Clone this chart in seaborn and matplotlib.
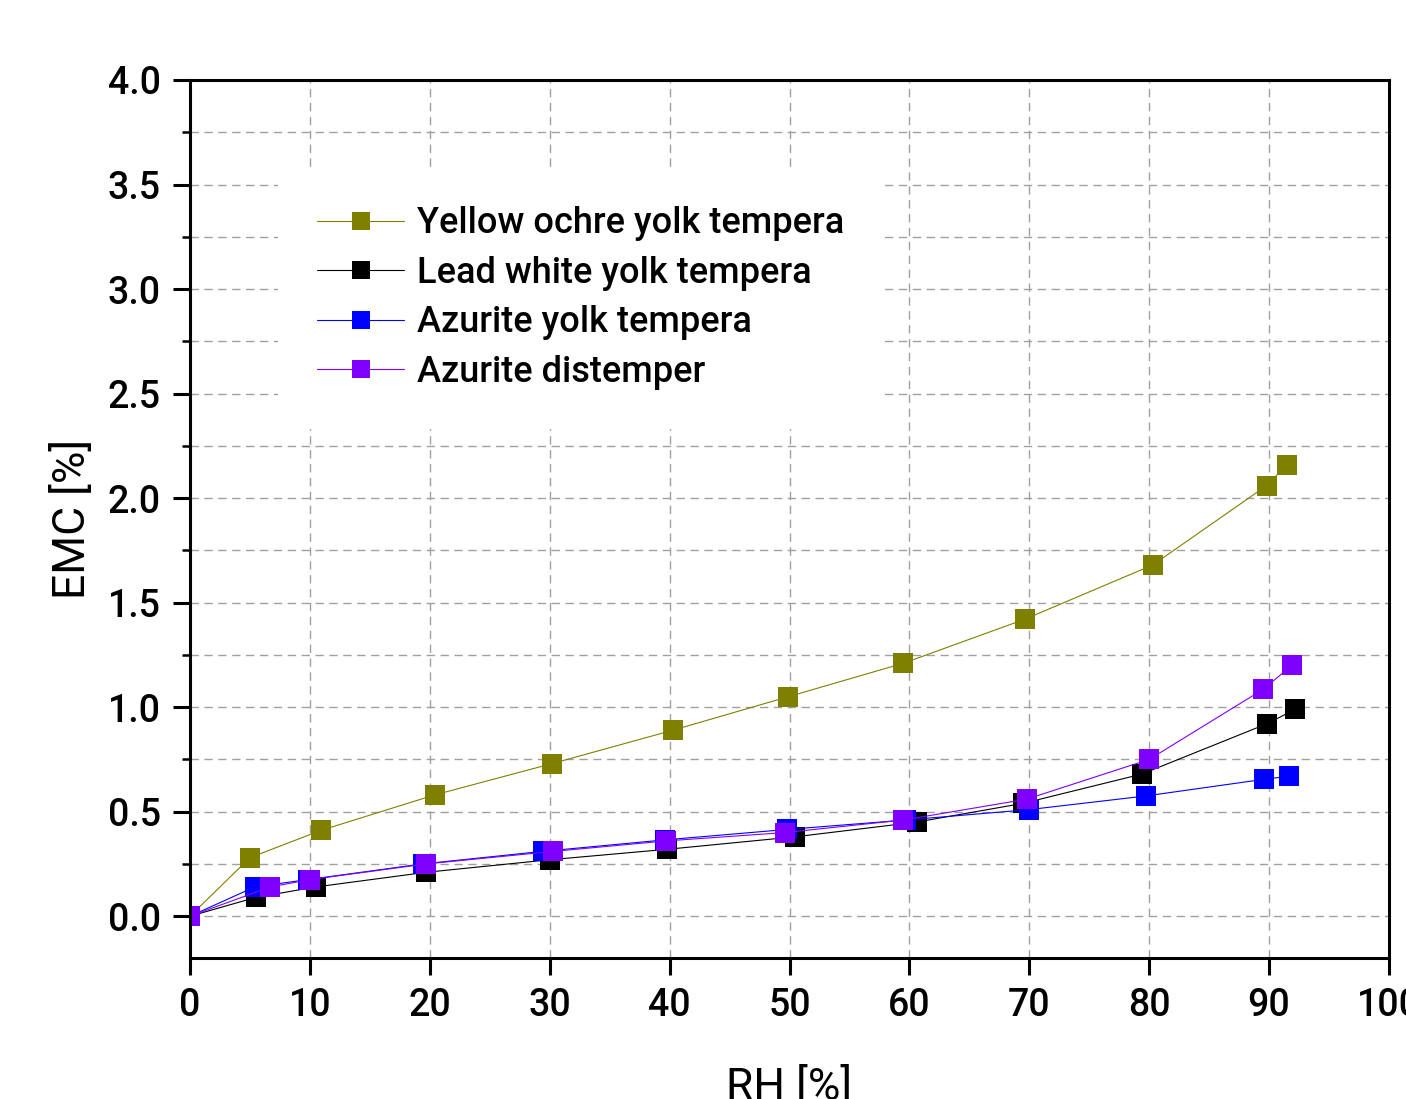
import numpy as np
import pandas as pd
import seaborn as sns
import matplotlib.pyplot as plt
from matplotlib.ticker import MultipleLocator

# data
series = ["Yellow ochre yolk tempera", "Lead white yolk tempera",
          "Azurite yolk tempera", "Azurite distemper"]
colors = ["#808000", "#000000", "#0000ff", "#8000ff"]

rh_ochre = [0, 5.0, 10.9, 20.4, 30.2, 40.3, 49.9, 59.5, 69.6, 80.3, 89.8, 91.5]
emc_ochre = [0, 0.28, 0.41, 0.58, 0.73, 0.89, 1.05, 1.21, 1.42, 1.68, 2.06, 2.16]

rh_lead = [0, 5.5, 10.5, 19.7, 30.0, 39.8, 50.5, 60.6, 69.5, 79.4, 89.8, 92.2]
emc_lead = [0, 0.09, 0.14, 0.21, 0.27, 0.32, 0.38, 0.45, 0.54, 0.68, 0.92, 0.99]

rh_azur = [0, 5.4, 9.8, 19.4, 29.4, 39.6, 49.8, 59.7, 70.0, 79.7, 89.6, 91.7]
emc_azur = [0, 0.14, 0.175, 0.25, 0.31, 0.365, 0.415, 0.46, 0.51, 0.575, 0.655, 0.67]

rh_dist = [0, 6.7, 10.0, 19.7, 30.3, 39.7, 49.6, 59.5, 69.8, 80.0, 89.5, 91.9]
emc_dist = [0, 0.14, 0.175, 0.25, 0.31, 0.36, 0.40, 0.46, 0.56, 0.75, 1.085, 1.20]

rh_all = [rh_ochre, rh_lead, rh_azur, rh_dist]
emc_all = [emc_ochre, emc_lead, emc_azur, emc_dist]

sns.set_style("white")
plt.rcParams['font.family'] = ['Roboto', 'DejaVu Sans']
plt.rcParams['font.weight'] = 'medium'
plt.rcParams['text.color'] = 'black'
plt.rcParams['axes.labelcolor'] = 'black'
plt.rcParams['xtick.color'] = 'black'
plt.rcParams['ytick.color'] = 'black'

fig = plt.figure(figsize=(14.06, 10.99), dpi=100)
ax = fig.add_axes([190/1406, 1-958/1099, 1199/1406, 878/1099])

for name, col, x, y in zip(series, colors, rh_all, emc_all):
    df = pd.DataFrame({"RH": x, "EMC": y})
    sns.lineplot(data=df, x="RH", y="EMC", ax=ax, color=col, label=name,
                 sort=False, estimator=None, linewidth=0.8,
                 marker="s", markersize=15, markeredgewidth=0)

ax.set_xlim(0, 100)
ax.set_ylim(-0.2, 4.0)
ax.xaxis.set_major_locator(MultipleLocator(10))
ax.yaxis.set_major_locator(MultipleLocator(0.5))
ax.yaxis.set_minor_locator(MultipleLocator(0.25))
ax.yaxis.set_major_formatter(plt.FormatStrFormatter('%.1f'))

ax.set_axisbelow(True)
ax.grid(which='major', axis='x', color='#a0a0a0', linestyle=(0, (6, 4)), linewidth=1.0)
ax.grid(which='both', axis='y', color='#a0a0a0', linestyle=(0, (6, 4)), linewidth=1.0)

for sp in ax.spines.values():
    sp.set_linewidth(2.2)
    sp.set_color('black')

ax.tick_params(axis='both', which='major', direction='out', length=12, width=2.2,
               labelsize=27, pad=9, bottom=True, left=True, top=False, right=False)
ax.tick_params(axis='y', which='minor', direction='out', length=6, width=1.8, left=True)

ax.set_xlabel("RH [%]", fontsize=32, labelpad=30)
ax.set_ylabel("EMC [%]", fontsize=32, labelpad=10)

leg = ax.legend(loc='upper left', bbox_to_anchor=(0.058, 0.922), fontsize=26,
                frameon=True, facecolor='white', edgecolor='none', framealpha=1,
                fancybox=False, borderpad=1.1, handlelength=2.4, handletextpad=0.35,
                labelspacing=0.4, markerscale=0.86)

fig.savefig("out.png", dpi=100)
